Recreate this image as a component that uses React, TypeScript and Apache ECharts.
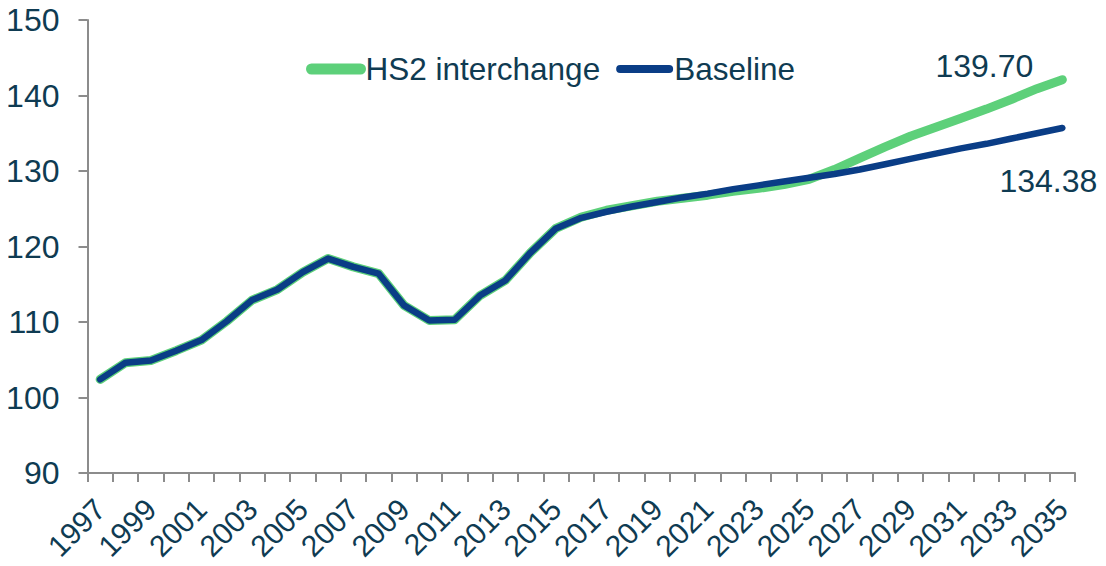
import React, { useEffect, useRef } from "react";
import * as echarts from "echarts";

const years = [
  "1997","1998","1999","2000","2001","2002","2003","2004","2005","2006",
  "2007","2008","2009","2010","2011","2012","2013","2014","2015","2016",
  "2017","2018","2019","2020","2021","2022","2023","2024","2025","2026",
  "2027","2028","2029","2030","2031","2032","2033","2034","2035",
];

const baseline = [
  102.4, 104.6, 104.9, 106.2, 107.6, 110.1, 112.9, 114.3, 116.6, 118.4,
  117.3, 116.4, 112.2, 110.2, 110.3, 113.5, 115.5, 119.2, 122.4, 123.8,
  124.6, 125.3, 125.9, 126.5, 127.0, 127.6, 128.1, 128.6, 129.1, 129.6,
  130.2, 130.9, 131.6, 132.3, 133.0, 133.6, 134.3, 135.0, 135.7,
];

const hs2 = [
  102.4, 104.6, 104.9, 106.2, 107.6, 110.1, 112.9, 114.3, 116.6, 118.4,
  117.3, 116.4, 112.2, 110.2, 110.3, 113.5, 115.5, 119.2, 122.4, 123.9,
  124.8, 125.4, 126.0, 126.4, 126.8, 127.3, 127.7, 128.2, 128.9, 130.2,
  131.7, 133.2, 134.6, 135.8, 137.0, 138.2, 139.5, 140.9, 142.1,
];

const endLabels = ["139.70", "134.38"];
const seriesNames = ["HS2 interchange", "Baseline"];

const GREEN = "#5dd07a";
const BLUE = "#0a3d86";
const TEXT = "#0f3b52";
const AXIS = "#8c8c8c";
const FONT = "'Liberation Sans', Arial, sans-serif";

function withEndLabel(values: number[], text: string, offset: number[], color: string) {
  return values.map((v, i) =>
    i === values.length - 1
      ? {
          value: v,
          symbol: "circle",
          symbolSize: 1,
          itemStyle: { color },
          label: {
            show: true,
            position: "inside",
            formatter: text,
            offset,
            color: TEXT,
            fontSize: 32,
            fontFamily: FONT,
            align: "center",
            verticalAlign: "middle",
          },
        }
      : v
  );
}

export default function App() {
  const ref = useRef<HTMLDivElement>(null);
  useEffect(() => {
    if (!ref.current) return;
    const chart = echarts.init(ref.current, undefined, { renderer: "svg" });
    chart.setOption({
      animation: false,
      textStyle: { fontFamily: FONT },
      grid: { left: 87.5, right: 31, top: 20, bottom: 93, containLabel: false },
      legend: {
        left: 301,
        top: 48,
        itemWidth: 49,
        itemHeight: 10,
        itemGap: 16,
        textStyle: { color: TEXT, fontSize: 31.5, fontFamily: FONT },
        data: [
          { name: seriesNames[0], lineStyle: { width: 11, cap: "round" } },
          { name: seriesNames[1], lineStyle: { width: 8, cap: "round" } },
        ],
      },
      xAxis: {
        type: "category",
        data: years,
        boundaryGap: true,
        axisLine: { show: true, lineStyle: { color: AXIS, width: 2 } },
        axisTick: { show: true, interval: 0, length: 9, lineStyle: { color: AXIS, width: 2 } },
        axisLabel: {
          interval: 1,
          rotate: 45,
          margin: 31,
          color: TEXT,
          fontSize: 30,
          fontFamily: FONT,
        },
        splitLine: { show: false },
      },
      yAxis: {
        type: "value",
        min: 90,
        max: 150,
        interval: 10,
        axisLine: { show: true, lineStyle: { color: AXIS, width: 2 } },
        axisTick: { show: true, length: 9, lineStyle: { color: AXIS, width: 2 } },
        axisLabel: { margin: 28, color: TEXT, fontSize: 32, fontFamily: FONT },
        splitLine: { show: false },
      },
      series: [
        {
          name: seriesNames[0],
          type: "line",
          symbol: "none",
          data: withEndLabel(hs2, endLabels[0], [-78, -14], GREEN),
          lineStyle: { color: GREEN, width: 9, cap: "round", join: "round" },
          itemStyle: { color: GREEN },
          z: 2,
        },
        {
          name: seriesNames[1],
          type: "line",
          symbol: "none",
          data: withEndLabel(baseline, endLabels[1], [-14, 53], BLUE),
          lineStyle: { color: BLUE, width: 6.5, cap: "round", join: "round" },
          itemStyle: { color: BLUE },
          z: 3,
        },
      ],
    });
    return () => chart.dispose();
  }, []);
  return <div ref={ref} style={{ width: 1106, height: 566, margin: -8 }} />;
}
